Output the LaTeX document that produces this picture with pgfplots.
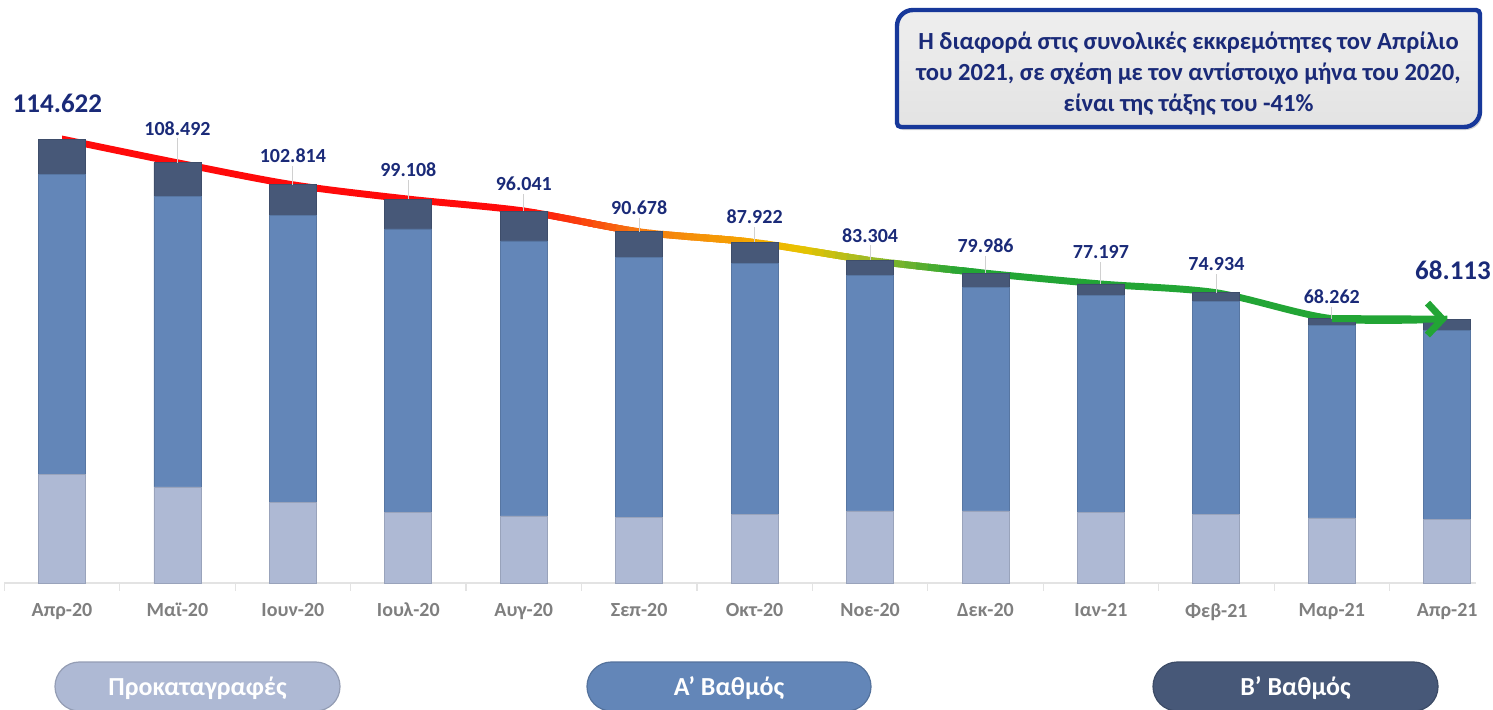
\documentclass[border=0pt]{standalone}
\usepackage{pgfplots}
\pgfplotsset{compat=1.18}
\usepackage{pgfplotstable}
\usepgfplotslibrary{fillbetween}
\usetikzlibrary{arrows.meta,shadows}
\usepackage{fontspec}
\setmainfont{Carlito}

\definecolor{cLight}{HTML}{AEB9D4}
\definecolor{cMid}{HTML}{6386B8}
\definecolor{cDark}{HTML}{475878}
\definecolor{navy}{HTML}{1A2A78}
\definecolor{labelgray}{HTML}{7F7F7F}
\definecolor{axisgray}{HTML}{E3E3E3}
\definecolor{leader}{HTML}{D0D0D0}
\definecolor{boxblue}{HTML}{17389A}
\definecolor{trendred}{HTML}{FF0A0A}
\definecolor{trendorange}{HTML}{F57A10}
\definecolor{trendamber}{HTML}{F5A800}
\definecolor{trendyellow}{HTML}{E8C400}
\definecolor{trendolive}{HTML}{9CBA28}
\definecolor{trendgreen}{HTML}{22A535}

% gradient pieces of the trend band: start, end, pieces, colour A, colour B
\newcommand\gradseg[5]{%
  \foreach \k in {1,...,#3} {%
    \pgfmathsetmacro\xa{#1+(#2-#1)*(\k-1)/#3}%
    \pgfmathsetmacro\xb{#1+(#2-#1)*\k/#3+0.012}%
    \pgfmathtruncatemacro\pc{100*(\k-0.5)/#3}%
    \edef\temp{\noexpand\addplot[fill=#5!\pc!#4, draw=none, forget plot]
      fill between[of=up and dn, soft clip={domain=\xa:\xb}];}%
    \temp
  }}

\pgfplotstableread{
x pre a b total
0 28100 77400 9122 114622
1 24800 75100 8592 108492
2 20700 74300 7814 102814
3 18100 73300 7708 99108
4 17300 71000 7741 96041
5 17000 67100 6578 90678
6 17800 64800 5322 87922
7 18600 60700 4004 83304
8 18600 57600 3786 79986
9 18300 56000 2897 77197
10 17800 55000 2134 74934
11 16800 49600 1862 68262
12 16300 49000 2813 68113
}\data

\pgfplotstableread{
x ly total
1 117400 108492
2 110200 102814
3 106600 99108
4 103000 96041
5 96900 90678
6 94500 87922
7 89800 83304
8 87000 79986
9 85400 77197
10 82300 74934
11 73800 68262
}\datamid

\pgfplotstableread{
x ly total
-0.04 123900 114622
12.05 80800 68113
}\databig

\begin{document}
\begin{tikzpicture}

\begin{axis}[
  at={(2.15pt,63pt)}, anchor=south west, scale only axis,
  width=735.9pt, height=290.5pt,
  xmin=-0.5, xmax=12.25, ymin=0, ymax=150000,
  ybar stacked, bar width=23.5pt,
  axis y line=none, axis x line*=bottom,
  x axis line style={draw=axisgray, line width=0.8pt, -},
  xtick={0,...,12},
  xticklabels={Απρ-20,Μαϊ-20,Ιουν-20,Ιουλ-20,Αυγ-20,Σεπ-20,Οκτ-20,Νοε-20,Δεκ-20,Ιαν-21,Φεβ-21,Μαρ-21,Απρ-21},
  major tick length=0pt,
  minor xtick={-0.5,0.5,1.5,2.5,3.5,4.5,5.5,6.5,7.5,8.5,9.5,10.5,11.5},
  minor tick length=4pt, tick align=outside,
  minor tick style={draw=axisgray, line width=0.6pt},
  xticklabel style={font=\bfseries\fontsize{10}{12}\selectfont, text=labelgray, yshift=-6.5pt},
  clip=false,
]
\addplot[fill=cLight, draw=cLight!88!black, line width=0.4pt] table[x=x,y=pre]{\data};
\addplot[fill=cMid, draw=cMid!88!black, line width=0.4pt] table[x=x,y=a]{\data};
\addplot[fill=cDark, draw=cDark!88!black, line width=0.4pt] table[x=x,y=b]{\data};
\end{axis}

\begin{axis}[
  at={(2.15pt,63pt)}, anchor=south west, scale only axis,
  width=735.9pt, height=290.5pt,
  xmin=-0.5, xmax=12.25, ymin=0, ymax=150000,
  axis lines=none, clip=false,
]
% leader lines
\addplot[draw=none, mark=none, forget plot,
  error bars/.cd, y dir=minus, y explicit, error mark=none,
  error bar style={draw=leader, line width=0.5pt}]
  table[x=x, y expr=\thisrow{ly}-2600, y error expr=\thisrow{ly}-2600-\thisrow{total}]{\datamid};

% trend line with arrow
\addplot[trendgreen, line width=3.5pt, -{Straight Barb[length=7.5pt,width=16pt]}, forget plot]
  coordinates {(11,68262) (12,68113)};
\addplot[smooth, draw=none, name path=up, forget plot] table[x=x, y expr=\thisrow{total}+900]{\data};
\addplot[smooth, draw=none, name path=dn, forget plot] table[x=x, y expr=\thisrow{total}-900]{\data};
\addplot[fill=trendred, draw=none, forget plot] fill between[of=up and dn, soft clip={domain=-1:4.012}];
\gradseg{4}{5}{10}{trendred}{trendorange}
\gradseg{5}{6}{10}{trendorange}{trendamber}
\gradseg{6}{6.4}{4}{trendamber}{trendyellow}
\gradseg{6.4}{7}{6}{trendyellow}{trendolive}
\gradseg{7}{7.8}{8}{trendolive}{trendgreen}
\addplot[fill=trendgreen, draw=none, forget plot] fill between[of=up and dn, soft clip={domain=7.8:13}];

% labels
\addplot[only marks, mark=none, forget plot,
  point meta=explicit,
  nodes near coords={\pgfmathprintnumber[1000 sep={.}, assume math mode=true, fixed, precision=0]{\pgfplotspointmeta}},
  every node near coord/.append style={anchor=center, inner sep=0pt,
     font=\bfseries\fontsize{10}{12}\selectfont, text=navy}]
  table[x=x, y=ly, meta=total]{\datamid};
\addplot[only marks, mark=none, forget plot,
  point meta=explicit,
  nodes near coords={\pgfmathprintnumber[1000 sep={.}, assume math mode=true, fixed, precision=0]{\pgfplotspointmeta}},
  every node near coord/.append style={anchor=center, inner sep=0pt,
     font=\bfseries\fontsize{13.5}{16}\selectfont, text=navy}]
  table[x=x, y=ly, meta=total]{\databig};
\end{axis}

% annotation box
\draw[line width=2.2pt, draw=boxblue, top color=gray!13, bottom color=gray!22,
      drop shadow={shadow xshift=1pt, shadow yshift=-1.5pt, opacity=0.35}]
  (448.5pt,293pt) -- (448.5pt,341.5pt) arc[start angle=180,end angle=90,radius=8pt]
  -- (738pt,349.5pt) arc[start angle=90,end angle=0,radius=2pt]
  -- (740pt,299pt) arc[start angle=0,end angle=-90,radius=8pt]
  -- (450.5pt,291pt) arc[start angle=270,end angle=180,radius=2pt] -- cycle;
\node[align=center, font=\bfseries\fontsize{12.3}{15.5}\selectfont, text=navy, inner sep=0pt]
  at (594.25pt,317.5pt)
  {Η διαφορά στις συνολικές εκκρεμότητες τον Απρίλιο\\
   του 2021, σε σχέση με τον αντίστοιχο μήνα του 2020,\\
   είναι της τάξης του -41\%};

% legend pills
\draw[fill=cLight, draw=cLight!85!black, line width=0.6pt, rounded corners=12.2pt]
  (27.5pt,-1pt) rectangle (170pt,23.5pt);
\node[font=\bfseries\fontsize{13}{15}\selectfont, text=white] at (98.75pt,10.5pt) {Προκαταγραφές};
\draw[fill=cMid, draw=cMid!85!black, line width=0.6pt, rounded corners=12.2pt]
  (293.5pt,-1pt) rectangle (435.5pt,23.5pt);
\node[font=\bfseries\fontsize{13}{15}\selectfont, text=white] at (364.5pt,10.5pt) {Α’ Βαθμός};
\draw[fill=cDark, draw=cDark!85!black, line width=0.6pt, rounded corners=12.2pt]
  (576.5pt,-1pt) rectangle (719pt,23.5pt);
\node[font=\bfseries\fontsize{13}{15}\selectfont, text=white] at (647.75pt,10.5pt) {Β’ Βαθμός};

\pgfresetboundingbox
\useasboundingbox (0,0) rectangle (746.5pt,354.5pt);
\end{tikzpicture}
\end{document}
